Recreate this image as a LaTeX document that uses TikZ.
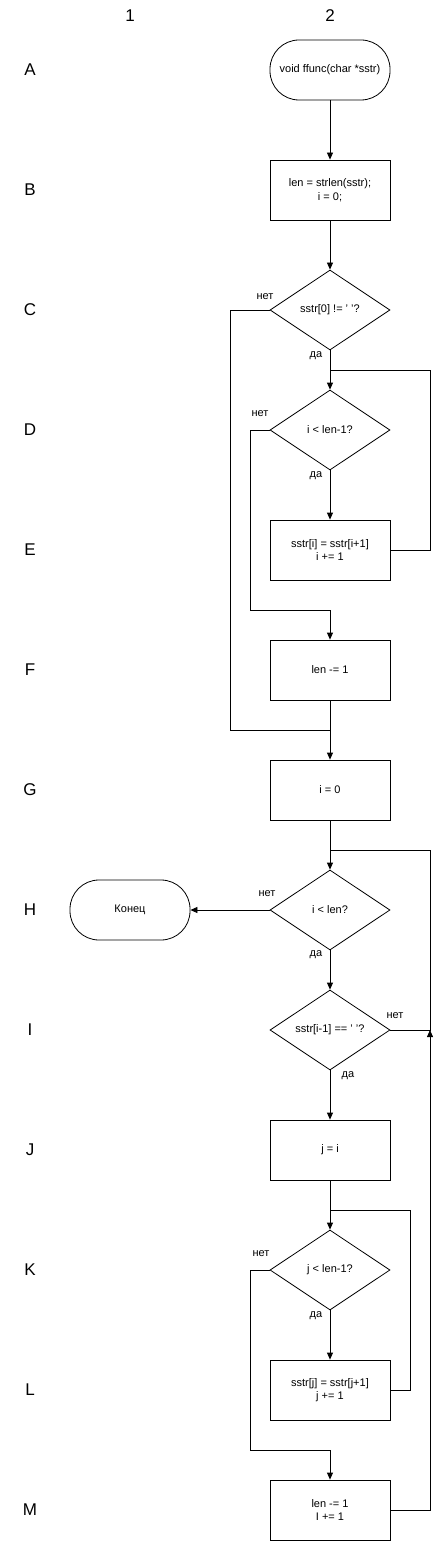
\documentclass[tikz,border=0pt]{standalone}
\usepackage{fontspec}
\setmainfont{Liberation Sans}
\usetikzlibrary{shapes.geometric,arrows.meta}
\begin{document}
\begin{tikzpicture}[x=1pt,y=-1pt,
  txt/.style={font=\fontsize{11}{13.5}\selectfont},
  base/.style={draw,line width=0.8pt,minimum width=120pt,minimum height=60pt,inner sep=1pt,align=center,txt},
  procbox/.style={base,rectangle},
  termbox/.style={base,rectangle,rounded corners=29pt},
  decbox/.style={draw,line width=0.8pt,diamond,minimum width=120pt,minimum height=80pt,inner sep=0pt},
  rowlab/.style={font=\fontsize{17}{20}\selectfont},
  edgelab/.style={txt},
  flow/.style={draw,line width=0.8pt,-{Triangle[length=7pt,width=6pt]}},
  plain/.style={draw,line width=0.8pt}
]
\useasboundingbox (0,0) rectangle (440,1541);
% column labels
\node[rowlab] (c1) at (130,16) {1};
\node[rowlab] (c2) at (330,16) {2};
% row labels
\foreach \l/\y in {A/70,B/190,C/310,D/430,E/550,F/670,G/790,H/910,I/1030,J/1150,K/1270,L/1390,M/1510}
  \node[rowlab] (r\l) at (30,\y) {\l};

% nodes
\node[termbox] (A) at (330,70) {void ffunc(char *sstr)};
\node[procbox] (B) at (330,190) {len = strlen(sstr);\\i = 0;};
\node[decbox] (C) at (330,310) {};
\node[txt] (Ct) at (C.center) {sstr[0] != ' '?};
\node[decbox] (D) at (330,430) {};
\node[txt] (Dt) at (D.center) {i < len-1?};
\node[procbox] (E) at (330,550) {sstr[i] = sstr[i+1]\\i += 1};
\node[procbox] (F) at (330,670) {len -= 1};
\node[procbox] (G) at (330,790) {i = 0};
\node[decbox] (H) at (330,910) {};
\node[txt] (Ht) at (H.center) {i < len?};
\node[termbox] (K0) at (130,910) {Конец};
\node[decbox] (I) at (330,1030) {};
\node[txt] (It) at (I.center) {sstr[i-1] == ' '?};
\node[procbox] (J) at (330,1150) {j = i};
\node[decbox] (K) at (330,1270) {};
\node[txt] (Kt) at (K.center) {j < len-1?};
\node[procbox] (L) at (330,1390) {sstr[j] = sstr[j+1]\\j += 1};
\node[procbox] (M) at (330,1510) {len -= 1\\I += 1};

% helper coordinates
\coordinate (cD) at (330,370);
\coordinate (cG) at (330,730);
\coordinate (cF) at (330,610);
\coordinate (cH) at (330,850);
\coordinate (cK) at (330,1210);
\coordinate (cM) at (330,1450);
\coordinate (cI) at (430,1030);

% connectors
\path[flow] (A) -- (B);
\path[flow] (B) -- (C);
\path[flow] (C.south) -- (D.north);
\path[flow] (D.south) -- (E.north);
\path[plain] (E.east) -- (430,550) -- (430,370) -- (cD);
\path[flow] (D.west) -- (250,430) -- (250,610) -- (cF) -- (F.north);
\path[flow] (F.south) -- (G.north);
\path[plain] (C.west) -- (230,310) -- (230,730) -- (cG);
\path[flow] (G.south) -- (H.north);
\path[flow] (H.west) -- (K0.east);
\path[flow] (H.south) -- (I.north);
\path[plain] (I.east) -- (cI) -- (430,850) -- (cH);
\path[flow] (M.east) -- (430,1510) -- (cI);
\path[flow] (I.south) -- (J.north);
\path[flow] (J.south) -- (K.north);
\path[flow] (K.south) -- (L.north);
\path[plain] (L.east) -- (410,1390) -- (410,1210) -- (cK);
\path[flow] (K.west) -- (250,1270) -- (250,1450) -- (cM) -- (M.north);

% edge labels
\node[edgelab] (lC1) at (265,297) {нет};
\node[edgelab] (lC2) at (316,356) {да};
\node[edgelab] (lD1) at (260,414) {нет};
\node[edgelab] (lD2) at (316,476) {да};
\node[edgelab] (lH1) at (267,894) {нет};
\node[edgelab] (lH2) at (316,955) {да};
\node[edgelab] (lI1) at (395,1016) {нет};
\node[edgelab] (lI2) at (348,1076) {да};
\node[edgelab] (lK1) at (261,1254) {нет};
\node[edgelab] (lK2) at (316,1316) {да};
\end{tikzpicture}
\end{document}
